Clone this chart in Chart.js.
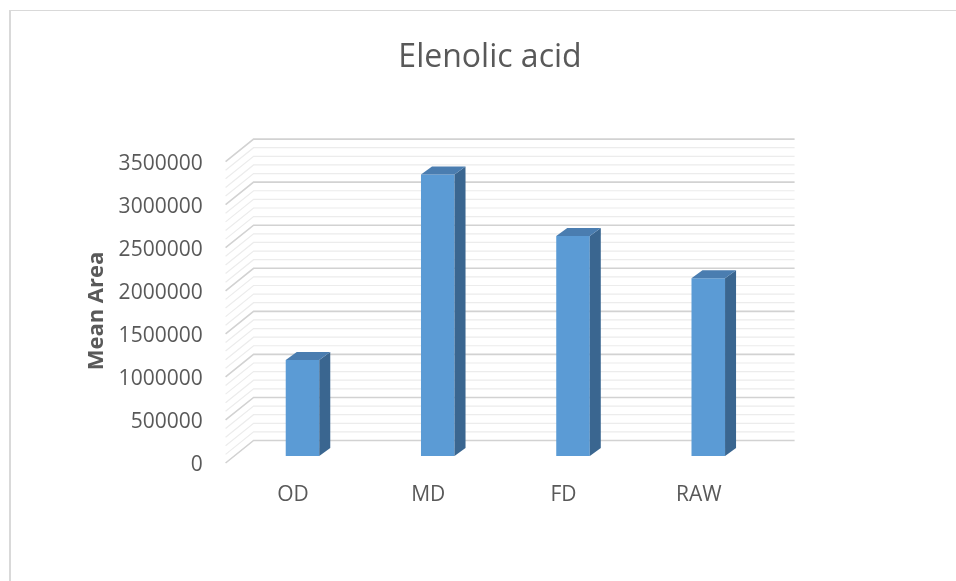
<!DOCTYPE html>
<html>
<head>
<meta charset="utf-8">
<title>Elenolic acid</title>
<script src="https://cdn.jsdelivr.net/npm/chart.js@4/dist/chart.umd.min.js"></script>
<style>
  html, body { margin: 0; padding: 0; background: #ffffff; }
  #wrap { position: relative; width: 956px; height: 581px; overflow: hidden; }
  #frame {
    position: absolute; left: 9px; top: 10px; width: 1000px; height: 640px;
    border-left: 2px solid #d9d9d9; border-top: 1px solid #d9d9d9;
  }
  #chart { position: absolute; left: 0; top: 0; }
</style>
</head>
<body>
<div id="wrap">
  <div id="frame"></div>
  <canvas id="chart" width="956" height="581"></canvas>
</div>
<script>
// Mean peak area of elenolic acid per drying treatment
const categories = ['OD', 'MD', 'FD', 'RAW'];
const meanArea = [1115000, 3270000, 2555000, 2065000];

// Value axis
const yMin = 0;
const yMax = 3500000;
const majorStep = 500000;
const minorStep = 100000;

const TEXT = '#595959';

// Pseudo-3D geometry (pixels) relative to the plane of the bar fronts
const BACK = { dx: 18.7, dy: -15.5 };   // back wall
const FRONT = { dx: -9.3, dy: 7 };      // front edge of the side wall
const BAR_DEPTH = { dx: 11, dy: -8 };   // depth of each column

const depthPlugin = {
  id: 'depth3d',
  beforeDatasetsDraw(chart) {
    const { ctx, chartArea: a, scales: { y } } = chart;
    ctx.save();
    const lines = [];
    for (let i = 0; yMin + i * minorStep <= yMax; i++) lines.push(yMin + i * minorStep);
    // minor lines first, majors on top
    const order = lines.filter(v => v % majorStep !== 0).concat(lines.filter(v => v % majorStep === 0));
    for (const v of order) {
      const major = v % majorStep === 0;
      const py = y.getPixelForValue(v);
      ctx.strokeStyle = major ? '#d2d2d2' : '#ececec';
      ctx.lineWidth = major ? 1.6 : 1.2;
      ctx.beginPath();
      ctx.moveTo(a.left + FRONT.dx, py + FRONT.dy);
      ctx.lineTo(a.left + BACK.dx, py + BACK.dy);
      ctx.lineTo(a.right + BACK.dx, py + BACK.dy);
      ctx.stroke();
    }
    ctx.restore();
  },
  afterDatasetsDraw(chart) {
    const { ctx } = chart;
    const meta = chart.getDatasetMeta(0);
    ctx.save();
    meta.data.forEach(bar => {
      const { x, y, base, width } = bar.getProps(['x', 'y', 'base', 'width'], true);
      const l = x - width / 2, r = x + width / 2;
      // side face
      ctx.fillStyle = '#3A6690';
      ctx.beginPath();
      ctx.moveTo(r, y);
      ctx.lineTo(r + BAR_DEPTH.dx, y + BAR_DEPTH.dy);
      ctx.lineTo(r + BAR_DEPTH.dx, base + BAR_DEPTH.dy);
      ctx.lineTo(r, base);
      ctx.closePath();
      ctx.fill();
      // top face
      ctx.fillStyle = '#4A7DB0';
      ctx.beginPath();
      ctx.moveTo(l, y);
      ctx.lineTo(l + BAR_DEPTH.dx, y + BAR_DEPTH.dy);
      ctx.lineTo(r + BAR_DEPTH.dx, y + BAR_DEPTH.dy);
      ctx.lineTo(r, y);
      ctx.closePath();
      ctx.fill();
    });
    ctx.restore();
  }
};

new Chart(document.getElementById('chart'), {
  type: 'bar',
  data: {
    labels: categories,
    datasets: [{
      label: 'Mean Area',
      data: meanArea,
      backgroundColor: '#5B9BD5',
      borderWidth: 0,
      categoryPercentage: 1,
      barPercentage: 0.248
    }]
  },
  options: {
    responsive: false,
    devicePixelRatio: 1,
    animation: false,
    layout: { padding: { left: 24, right: 0, top: 0, bottom: 0 } },
    plugins: {
      legend: { display: false },
      tooltip: { enabled: false },
      title: {
        display: true,
        text: 'Elenolic acid',
        color: TEXT,
        font: { family: 'Open Sans', size: 32, weight: 'normal' },
        padding: { top: 38.8, bottom: 77.4 }
      }
    },
    scales: {
      x: {
        grid: { display: false, drawTicks: false },
        border: { display: false },
        ticks: {
          color: TEXT,
          font: { family: 'Open Sans', size: 21 },
          padding: 26,
          labelOffset: -9.5,
          maxRotation: 0
        },
        afterFit(scale) { scale.height = 125; }
      },
      y: {
        min: yMin,
        max: yMax,
        grid: { display: false, drawTicks: false },
        border: { display: false },
        ticks: {
          stepSize: majorStep,
          color: TEXT,
          font: { family: 'Open Sans', size: 21 },
          padding: 32.2,
          labelOffset: 9.5,
          callback: v => String(v)
        },
        title: {
          display: true,
          text: 'Mean Area  ',
          color: TEXT,
          font: { family: 'Open Sans', size: 22, weight: 'bold' },
          padding: { top: 59.5, bottom: 0 }
        },
        afterFit(scale) { scale.width = 210.87; }
      },
      // empty margin to the right of the plot
      gutter: {
        type: 'linear',
        position: 'right',
        grid: { display: false, drawTicks: false },
        border: { display: false },
        ticks: { display: false },
        afterFit(scale) { scale.width = 180.1; }
      }
    }
  },
  plugins: [depthPlugin]
});
</script>
</body>
</html>
